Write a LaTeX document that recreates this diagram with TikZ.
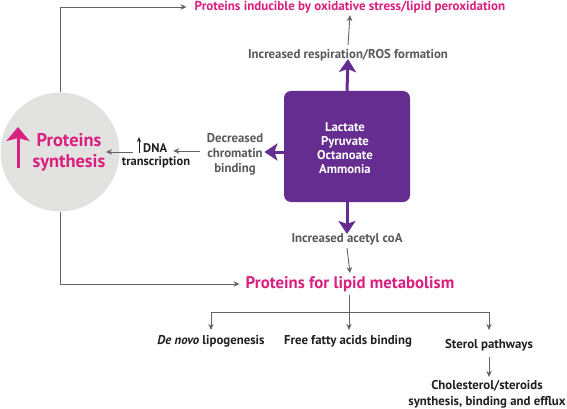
\documentclass[tikz,border=0pt]{standalone}
\usepackage{fontspec}
\setmainfont{PT Sans}
\usetikzlibrary{arrows.meta}
\definecolor{mag}{HTML}{DA1F7E}
\definecolor{purp}{HTML}{662D91}
\definecolor{gtxt}{HTML}{58595B}
\definecolor{gline}{HTML}{626366}
\definecolor{circ}{HTML}{E2E3E1}
\definecolor{dark}{HTML}{231F20}
\begin{document}
\begin{tikzpicture}[x=1pt,y=-1pt,
  garrow/.style={draw=gline,line width=0.9pt,-{Stealth[length=6pt,width=5.5pt]}},
  glin/.style={draw=gline,line width=0.9pt},
  parrow/.style={draw=purp,line width=3pt,-{Stealth[length=13pt,width=17pt,inset=3pt]}},
  gtext/.style={text=gtxt,font=\bfseries\fontsize{12.8}{15}\selectfont,inner sep=0pt,align=center},
  dtext/.style={text=dark,font=\bfseries\fontsize{12.8}{16}\selectfont,inner sep=0pt,align=center},
  mtext/.style={text=mag,font=\bfseries\fontsize{13}{15}\selectfont,inner sep=0pt,align=center}]
\useasboundingbox (0,0) rectangle (567,409);
% circle
\node[circle,fill=circ,minimum size=119pt,inner sep=0pt] (circ) at (60,152) {};
\node[text=mag,font=\bfseries\fontsize{18.4}{21}\selectfont,align=center,inner sep=0pt] (psyn) at (69,152) {Proteins\\synthesis};
\coordinate (ma1) at (18,168);
\coordinate (ma2) at (18,127);
\draw[draw=mag,line width=3pt,-{Stealth[length=14pt,width=23pt,inset=3pt]}] (ma1) -- (ma2);
% purple box
\node[draw=none,fill=purp,rounded corners=7pt,minimum width=126pt,minimum height=111pt] (box) at (347,146.5) {};
\node[text=white,font=\bfseries\fontsize{12.7}{14.2}\selectfont,align=center,inner sep=0pt] (boxt) at (345,148) {Lactate\\Pyruvate\\Octanoate\\Ammonia};
% top
\node[mtext] (top) at (350,7) {Proteins inducible by oxidative stress/lipid peroxidation};
\node[gtext] (resp) at (348,55) {Increased respiration/ROS formation};
\draw[parrow] (box.north) -- ([yshift=2pt]resp.south);
\coordinate (r1) at (348,45);
\draw[garrow] (r1) -- ([yshift=-2pt]top.south);
% left
\node[gtext] (chrom) at (235,154) {Decreased\\chromatin\\binding};
\draw[parrow] (box.west |- 0,152) -- ([xshift=1pt]chrom.east |- 0,152);
\node[text=dark,font=\bfseries\fontsize{12.5}{14}\selectfont,inner sep=0pt,anchor=west] (dnaa) at (143,148) {DNA};
\node[text=dark,font=\bfseries\fontsize{12.5}{14}\selectfont,inner sep=0pt] (dnab) at (156,162) {transcription};
\draw[garrow] ([xshift=-7pt]chrom.west |- 0,151) -- ([xshift=6pt]dnaa.east |- 0,151);
\coordinate (ua1) at (139,153);
\coordinate (ua2) at (139,137);
\draw[draw=dark,line width=0.8pt,-{Stealth[length=5pt,width=4pt]}] (ua1) -- (ua2);
\draw[garrow] ([xshift=11pt]dnab.west |- 0,152) -- (106,152);
% top-left connector
\draw[garrow] (circ.north) |- ([xshift=-8pt]top.west);
% bottom
\node[gtext] (acet) at (347,239) {Increased acetyl coA};
\draw[parrow] (box.south) -- ([yshift=-1pt]acet.north);
\node[mtext,font=\bfseries\fontsize{16.8}{19}\selectfont] (lipid) at (350,284) {Proteins for lipid metabolism};
\draw[garrow] ([yshift=-3pt]acet.south) -- ([yshift=3pt]lipid.north);
\draw[garrow] (circ.south) |- ([xshift=-6pt]lipid.west);
% tree
\node[dtext] (denovo) at (211,341) {\textit{De novo} lipogenesis};
\node[dtext] (ffa) at (348,341) {Free fatty acids binding};
\node[dtext] (sterol) at (489,345) {Sterol pathways};
\node[dtext] (chol) at (487,394) {Cholesterol/steroids\\synthesis, binding and efflux};
\coordinate (br) at (349,312);
\draw[glin] ([yshift=-3pt]lipid.south -| br) -- (br);
\draw[garrow] (br) -- ([yshift=5pt]ffa.north -| br);
\draw[garrow] (br) -| ([yshift=5pt]denovo.north);
\draw[garrow] (br) -| ([yshift=9pt]sterol.north);
\draw[garrow] ([yshift=-6pt]sterol.south) -- ([yshift=3pt]chol.north -| sterol.south);
\end{tikzpicture}
\end{document}
